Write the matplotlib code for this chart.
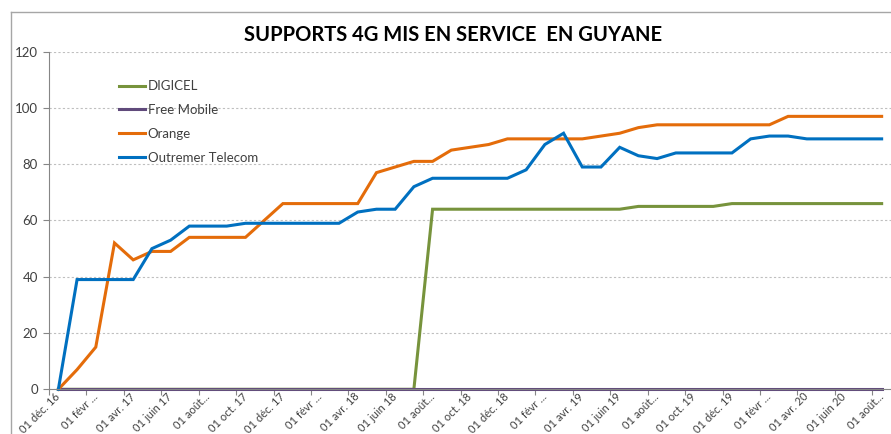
import matplotlib.pyplot as plt
from matplotlib.lines import Line2D

# months from 01 déc. 16 to 01 août 20 (one point per month)
n_months = 45
tick_labels = ["01 déc. 16", "01 févr ...", "01 avr. 17", "01 juin 17", "01 août...",
               "01 oct. 17", "01 déc. 17", "01 févr ...", "01 avr. 18", "01 juin 18",
               "01 août...", "01 oct. 18", "01 déc. 18", "01 févr ...", "01 avr. 19",
               "01 juin 19", "01 août...", "01 oct. 19", "01 déc. 19", "01 févr ...",
               "01 avr. 20", "01 juin 20", "01 août..."]

digicel = [0] * 20 + [64] * 11 + [65] * 5 + [66] * 9
free_mobile = [0] * 45
orange = [0, 7, 15, 52, 46, 49, 49, 54, 54, 54, 54, 60, 66, 66, 66, 66, 66, 77, 79, 81,
          81, 85, 86, 87, 89, 89, 89, 89, 89, 90, 91, 93, 94, 94, 94, 94, 94, 94, 94, 97,
          97, 97, 97, 97, 97]
outremer = [0, 39, 39, 39, 39, 50, 53, 58, 58, 58, 59, 59, 59, 59, 59, 59, 63, 64, 64, 72,
            75, 75, 75, 75, 75, 78, 87, 91, 79, 79, 86, 83, 82, 84, 84, 84, 84, 89, 90, 90,
            89, 89, 89, 89, 89]

series = [("DIGICEL", digicel, "#77933C"),
          ("Free Mobile", free_mobile, "#604A7B"),
          ("Orange", orange, "#E46C0A"),
          ("Outremer Telecom", outremer, "#0070C0")]

plt.rcParams['font.family'] = ['Lato', 'DejaVu Sans']

fig = plt.figure(figsize=(8.91, 4.34), dpi=100)
ax = fig.add_axes([0.055, 0.103, 0.945, 0.778])

x = list(range(n_months))
for name, vals, color in series:
    ax.plot(x, vals, color=color, lw=2.2, label=name, solid_joinstyle='miter',
            clip_on=False)

ax.set_xlim(-0.5, n_months - 0.5)
ax.set_ylim(0, 120)
ax.set_yticks(range(0, 121, 20))
ax.yaxis.grid(True, color="#BFBFBF", linestyle=(0, (2, 2)), lw=0.8)
ax.set_axisbelow(True)

# tick marks between categories, labels on every second month
ax.set_xticks([i - 0.5 for i in range(0, n_months + 1, 2)])
ax.set_xticklabels([])
ax.tick_params(axis='x', length=4, color="#868686", direction='out')
ax.set_xticks(range(0, n_months, 2), minor=True)
ax.set_xticklabels(tick_labels, minor=True, rotation=45, ha='right', va='center',
                   rotation_mode='anchor', fontsize=8, color="#404040")
ax.tick_params(axis='x', which='minor', length=0, pad=4)
ax.tick_params(axis='y', length=4, color="#868686", labelsize=9.5, labelcolor="#404040", pad=4)

for s in ['top', 'right']:
    ax.spines[s].set_visible(False)
ax.spines['left'].set_color("#868686")
ax.spines['bottom'].set_color("#868686")

ax.legend(loc='upper left', bbox_to_anchor=(0.075, 0.935), frameon=False, fontsize=9.5,
          handlelength=2.0, handletextpad=0.2, labelspacing=0.9, borderpad=0,
          labelcolor="#404040")

fig.text(0.508, 0.919, "SUPPORTS 4G MIS EN SERVICE  EN GUYANE", ha='center', va='center',
         fontsize=14.5, fontweight='bold', color="#000000")

# chart area border (cropped on right and bottom)
fig.add_artist(Line2D([11 / 891, 11 / 891], [0, 1 - 12 / 434], color="#A6A6A6", lw=1))
fig.add_artist(Line2D([11 / 891, 1], [1 - 12 / 434, 1 - 12 / 434], color="#A6A6A6", lw=1))

plt.savefig("out.png", dpi=100)
